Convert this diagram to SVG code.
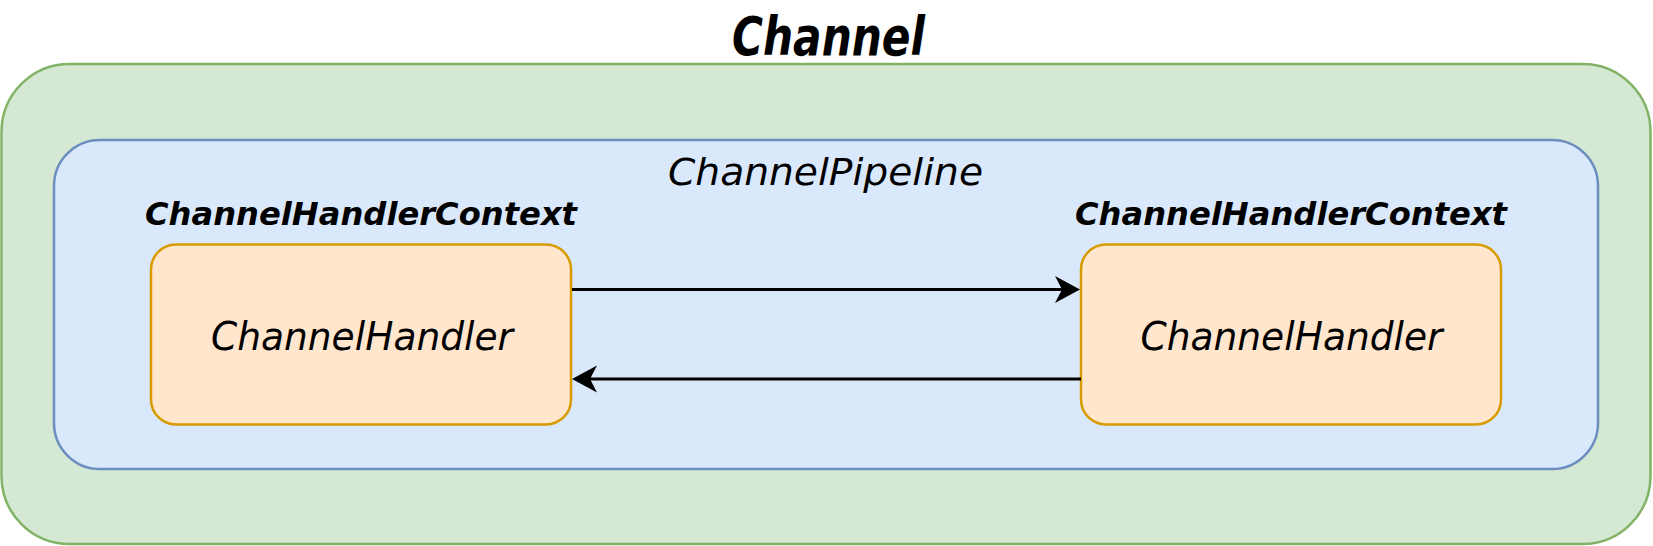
<svg xmlns="http://www.w3.org/2000/svg" width="1653" height="546" viewBox="0 0 1653 546">
  <defs>
    <style>
      .t { font-family: "DejaVu Sans", "Liberation Sans", sans-serif; font-style: italic; fill: #000; text-anchor: middle; }
      .b { font-weight: bold; }
      .conn { stroke: #000; stroke-width: 3; fill: none; }
    </style>
    <marker id="arrow" markerUnits="userSpaceOnUse" viewBox="-8 -14 27 28" refX="0" refY="0" markerWidth="27" markerHeight="28" orient="auto">
      <path d="M18,0 L-7,-13.5 L0,0 L-7,13.5 Z" fill="#000"/>
    </marker>
  </defs>
  <rect width="1653" height="546" fill="#fff"/>
  <g id="channel">
    <rect x="1.5" y="64" width="1649" height="480" rx="68" ry="68" fill="#d5e8d4" stroke="#82b366" stroke-width="2.5"/>
    <text class="t b" x="828.5" y="55" font-size="54" textLength="193" lengthAdjust="spacingAndGlyphs">Channel</text>
  </g>
  <g id="pipeline">
    <rect x="54" y="140" width="1544" height="329" rx="46" ry="46" fill="#dae8fc" stroke="#6c8ebf" stroke-width="2.5"/>
    <text class="t" x="825.5" y="185" font-size="38" textLength="315" lengthAdjust="spacingAndGlyphs">ChannelPipeline</text>
  </g>
  <g id="handler-left">
    <text class="t b" x="361" y="225" font-size="32" textLength="432" lengthAdjust="spacingAndGlyphs">ChannelHandlerContext</text>
    <rect x="151" y="244.5" width="420" height="180" rx="25" ry="25" fill="#ffe6cc" stroke="#d79b00" stroke-width="2.5"/>
    <text class="t" x="362" y="350" font-size="39" textLength="302" lengthAdjust="spacingAndGlyphs">ChannelHandler</text>
  </g>
  <g id="handler-right">
    <text class="t b" x="1291" y="225" font-size="32" textLength="432" lengthAdjust="spacingAndGlyphs">ChannelHandlerContext</text>
    <rect x="1081" y="244.5" width="420" height="180" rx="25" ry="25" fill="#ffe6cc" stroke="#d79b00" stroke-width="2.5"/>
    <text class="t" x="1291.5" y="350" font-size="39" textLength="302" lengthAdjust="spacingAndGlyphs">ChannelHandler</text>
  </g>
  <g id="connectors">
    <path class="conn" d="M572,289.5 L1062,289.5" marker-end="url(#arrow)"/>
    <path class="conn" d="M1081,379 L590,379" marker-end="url(#arrow)"/>
  </g>
</svg>
